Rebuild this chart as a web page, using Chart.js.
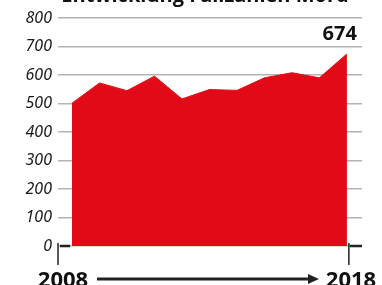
<!DOCTYPE html>
<html>
<head>
<meta charset="utf-8">
<script src="https://cdn.jsdelivr.net/npm/chart.js@4"></script>
<style>
  html, body { margin: 0; padding: 0; background: #fff; }
  #wrap { width: 382px; height: 285px; position: relative; }
</style>
</head>
<body>
<div id="wrap"><canvas id="myCanvas" width="382" height="285"></canvas></div>
<script>
// data
const years = [2008, 2009, 2010, 2011, 2012, 2013, 2014, 2015, 2016, 2017, 2018];
const cases = [501, 572, 545, 596, 516, 549, 546, 590, 608, 590, 674];
const yTicks = [0, 100, 200, 300, 400, 500, 600, 700, 800];
const titleText = 'Entwicklung Fallzahlen Mord';

const red = '#e20a17';

// draws title, end label, year labels and arrow
const extras = {
    id: 'extras',
    afterDraw(chart) {
        const c = chart.ctx;
        const xs = chart.scales.x;
        const ys = chart.scales.y;
        const area = chart.chartArea;
        const zeroY = ys.getPixelForValue(0);
        const firstX = xs.getPixelForValue(years[0]);
        const lastX = xs.getPixelForValue(years[years.length - 1]);
        c.save();

        // title, cut at the top
        c.fillStyle = '#111';
        c.font = 'bold 20px "Open Sans"';
        c.textAlign = 'center';
        c.textBaseline = 'alphabetic';
        c.fillText(titleText, 205, 2);

        // last value label
        const lastY = ys.getPixelForValue(cases[cases.length - 1]);
        c.textAlign = 'right';
        c.fillText(String(cases[cases.length - 1]), lastX + 10, lastY - 14);

        // zero line ends, outside the area
        c.strokeStyle = '#222';
        c.lineWidth = 2.5;
        c.beginPath();
        c.moveTo(area.left + 2, zeroY); c.lineTo(firstX - 2, zeroY);
        c.moveTo(lastX + 3, zeroY); c.lineTo(area.right, zeroY);
        c.stroke();

        // vertical ticks at start and end
        c.lineWidth = 1.5;
        c.beginPath();
        c.moveTo(area.left, zeroY - 3); c.lineTo(area.left, zeroY + 19);
        c.moveTo(lastX + 2, zeroY - 3); c.lineTo(lastX + 2, zeroY + 19);
        c.stroke();

        // year labels
        c.font = 'bold 22px "Open Sans"';
        c.textAlign = 'center';
        c.fillText(String(years[0]), 63, 287);
        c.fillText(String(years[years.length - 1]), 351, 287);

        // arrow
        c.lineWidth = 3;
        c.beginPath();
        c.moveTo(97, 279); c.lineTo(310, 279);
        c.stroke();
        c.fillStyle = '#222';
        c.beginPath();
        c.moveTo(319, 279); c.lineTo(308, 274); c.lineTo(308, 284);
        c.closePath();
        c.fill();

        c.restore();
    }
};

document.addEventListener('DOMContentLoaded', () => {
    const ctx = document.getElementById('myCanvas').getContext('2d');

    const data = {
        datasets: [{
            data: years.map((y, i) => ({ x: y, y: cases[i] })),
            fill: 'origin',
            backgroundColor: red,
            borderColor: red,
            borderWidth: 1,
            pointRadius: 0,
            tension: 0
        }]
    };

    const config = {
        type: 'line',
        data: data,
        plugins: [extras],
        options: {
            responsive: false,
            animation: false,
            events: [],
            layout: { padding: { left: 0, right: 20, top: 18, bottom: 39 } },
            plugins: { legend: { display: false }, tooltip: { enabled: false } },
            scales: {
                x: {
                    type: 'linear',
                    display: false,
                    min: 2007.49,
                    max: 2018.55
                },
                y: {
                    min: 0,
                    max: 800,
                    afterFit: (scale) => { scale.width = 58; },
                    afterBuildTicks: (scale) => { scale.ticks = yTicks.map(v => ({ value: v })); },
                    border: { display: false },
                    grid: {
                        drawTicks: false,
                        color: '#b3b3b3',
                        lineWidth: 1.5
                    },
                    ticks: {
                        padding: 6,
                        color: '#1a1a1a',
                        font: { family: '"Noto Sans", "DejaVu Sans"', size: 16, style: 'italic' }
                    }
                }
            }
        }
    };

    const myChart = new Chart(ctx, config);
});
</script>
</body>
</html>
